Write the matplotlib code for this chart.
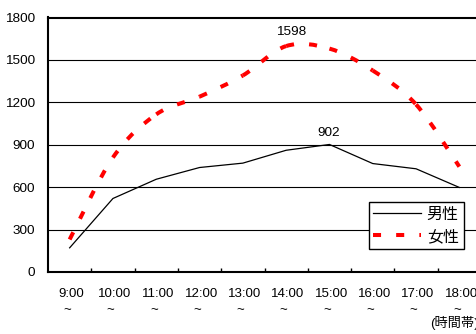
import matplotlib
matplotlib.use("Agg")
import matplotlib.pyplot as plt
from matplotlib.path import Path
from matplotlib.patches import PathPatch
from matplotlib.lines import Line2D
from matplotlib.transforms import ScaledTranslation
import numpy as np

plt.rcParams['font.family'] = ['Liberation Sans', 'Noto Sans CJK JP', 'DejaVu Sans']

categories = ["9:00", "10:00", "11:00", "12:00", "13:00", "14:00", "15:00", "16:00", "17:00", "18:00"]
male = [171, 520, 656, 739, 770, 861, 902, 767, 730, 598]
female = [230, 810, 1115, 1240, 1390, 1598, 1580, 1425, 1185, 745]
yticks = [0, 300, 600, 900, 1200, 1500, 1800]
series_names = ["男性", "女性"]

W, H = 476, 334
fig = plt.figure(figsize=(W / 100, H / 100), dpi=100)
ax = fig.add_axes([48 / W, (H - 272) / H, (481 - 48) / W, (272 - 17.5) / H])

x = np.arange(len(categories))
ax.set_xlim(-0.5, len(categories) - 0.5)
ax.set_ylim(0, 1800)
ax.set_yticks(yticks)
ax.set_yticklabels([str(v) for v in yticks], fontsize=9.7)
ax.tick_params(axis='y', length=0, pad=9.5)
ax.yaxis.grid(True, color='black', lw=0.8)
ax.set_axisbelow(True)

ax.set_xticks(x)
ax.set_xticklabels([c + "\n~  " for c in categories], fontsize=9.5, linespacing=1.45, va='top')
ax.tick_params(axis='x', which='major', length=0, pad=11.5)
shift = ScaledTranslation(1.8 / 100, 0, fig.dpi_scale_trans)
for lab in ax.get_xticklabels():
    lab.set_transform(lab.get_transform() + shift)
ax.set_xticks(x[:-1] + 0.5, minor=True)
ax.tick_params(axis='x', which='minor', direction='in', length=3, width=1, color='black')

for s in ['left', 'bottom', 'top']:
    ax.spines[s].set_linewidth(1.5)
    ax.spines[s].set_color('black')
ax.spines['right'].set_visible(False)

# male: straight black line
ax.plot(x, male, color='black', lw=0.9, solid_joinstyle='miter')

# female: smoothed (Excel-style Bezier through data points), dashed red,
# dash pattern restarting at every data point like the original
lw_f = 2.9
dash = (0, (2.0, 3.75))
pts = np.column_stack([x, female]).astype(float)
n = len(pts)
for i in range(n - 1):
    p0 = pts[i - 1] if i > 0 else pts[i]
    p1 = pts[i]
    p2 = pts[i + 1]
    p3 = pts[i + 2] if i + 2 < n else pts[i + 1]
    c1 = p1 + (p2 - p0) / 6.0
    c2 = p2 - (p3 - p1) / 6.0
    seg = Path([p1, c1, c2, p2], [Path.MOVETO, Path.CURVE4, Path.CURVE4, Path.CURVE4])
    ax.add_patch(PathPatch(seg, fill=False, edgecolor='#ff0000', lw=lw_f,
                           linestyle=dash, capstyle='butt', joinstyle='miter'))

ax.annotate(str(max(female)), xy=(int(np.argmax(female)), max(female)), xytext=(3.6, 10),
            textcoords='offset points', ha='center', va='center', fontsize=9.7)
ax.annotate(str(max(male)), xy=(int(np.argmax(male)), max(male)), xytext=(-0.7, 8),
            textcoords='offset points', ha='center', va='center', fontsize=9.7)

handles = [Line2D([], [], color='black', lw=0.9),
           Line2D([], [], color='#ff0000', lw=lw_f, linestyle=dash, dash_capstyle='butt')]
leg = fig.legend(handles, series_names, loc='upper left',
                 bbox_to_anchor=(368.5 / W, 1 - 202 / H), fontsize=11.5,
                 handlelength=3.0, handletextpad=0.35, borderpad=0.3,
                 labelspacing=0.45, borderaxespad=0, fancybox=False,
                 framealpha=1, edgecolor='black')
leg.get_frame().set_linewidth(1.0)

fig.text(430.5 / W, 1 - 323 / H, "(時間帯)", fontsize=9.5, ha='left', va='center')

fig.savefig("out.png", dpi=100)
